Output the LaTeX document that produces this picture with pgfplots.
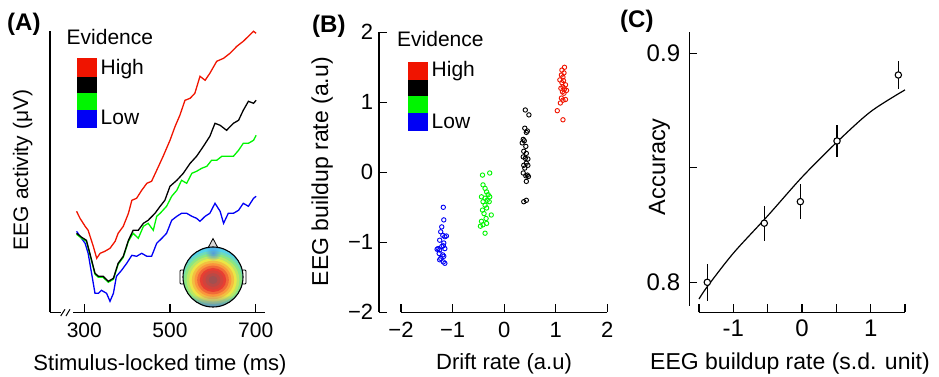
\documentclass[border=0pt]{standalone}
\usepackage{fontspec}
\setmainfont{Liberation Sans}
\usepackage{pgfplots}
\pgfplotsset{compat=1.18}
\usetikzlibrary{fadings}
\definecolor{cred}{RGB}{240,20,0}
\definecolor{cgreen}{RGB}{0,245,0}
\definecolor{cblue}{RGB}{0,0,245}
\definecolor{t0}{RGB}{160,80,80}
\definecolor{t1}{RGB}{232,62,50}
\definecolor{t2}{RGB}{250,150,60}
\definecolor{t3}{RGB}{235,230,70}
\definecolor{t4}{RGB}{140,230,130}
\definecolor{t5}{RGB}{85,210,235}
\definecolor{t6}{RGB}{75,165,240}
\definecolor{t7}{RGB}{70,100,225}
\tikzfading[name=spot, inner color=transparent!0, outer color=transparent!100]
\tikzfading[name=botfade, top color=transparent!100, bottom color=transparent!0]
\newcommand\fs[1]{\fontsize{#1}{#1}\selectfont}
\pgfplotsset{
  common/.style={scale only axis, anchor=south west, clip=false,
    axis lines*=left, tick align=inside, major tick length=8pt,
    tick style={black, line width=1.2pt},
    axis line style={line width=1.2pt}}
}
\begin{document}
\begin{tikzpicture}
\path[use as bounding box] (0pt,0pt) rectangle (939pt,377pt);
% ---------------- Panel A ----------------
\begin{axis}[common, at={(50pt,64.7pt)}, width=215pt, height=281pt,
  xmin=220, xmax=721.7, ymin=0, ymax=281,
  x axis line style={draw=none},
  ytick=\empty, xtick={300,500,700}, xticklabels={300,500,700},
  xticklabel style={font=\fs{21}, anchor=base, yshift=-25.7pt}]
\draw[line width=1.2pt] (axis cs:220,0) -- (axis cs:244.9,0);
\draw[line width=1.2pt] (axis cs:274.3,0) -- (axis cs:721.7,0);
\draw[line width=1pt] (axis cs:244.9,-3.7) -- (axis cs:255,3);
\draw[line width=1pt] (axis cs:257.3,-3.7) -- (axis cs:266.6,3);
\addplot[cblue, line width=1.3pt] coordinates {(282,81)(290,76)(302,69)(309,59)(317,39)(325,19)(333,19)(340,22)(352,19)(360,11)(368,19)(375,36)(387,42)(399,49)(411,57)(422,56)(434,59)(446,56)(457,56)(469,69)(481,74)(492,79)(504,92)(516,96)(527,99)(539,99)(551,96)(562,94)(570,91)(582,96)(593,99)(605,109)(617,101)(625,89)(636,99)(648,99)(660,102)(671,109)(683,106)(695,114)(701,116)};
\addplot[cgreen, line width=1.3pt] coordinates {(282,78)(294,74)(305,71)(313,58)(325,38)(333,35)(344,35)(356,30)(368,33)(379,48)(391,55)(403,71)(414,79)(426,74)(438,86)(449,89)(461,82)(469,96)(477,99)(492,106)(504,116)(516,122)(527,132)(539,129)(551,139)(562,141)(574,144)(586,146)(597,152)(609,152)(621,156)(632,156)(648,156)(660,162)(671,169)(683,169)(695,172)(701,177)};
\addplot[black, line width=1.3pt] coordinates {(282,79)(294,75)(305,72)(313,59)(325,39)(333,36)(344,36)(356,31)(368,34)(379,49)(391,56)(403,72)(414,82)(426,82)(438,89)(449,92)(465,99)(477,106)(488,112)(500,126)(516,132)(531,139)(547,149)(562,156)(578,166)(593,176)(605,189)(617,187)(632,182)(648,189)(660,192)(671,202)(683,211)(695,209)(701,212)};
\addplot[cred, line width=1.3pt] coordinates {(282,101)(290,94)(302,86)(309,82)(321,66)(329,54)(337,59)(348,61)(360,64)(372,71)(379,79)(391,86)(403,99)(411,112)(422,114)(434,122)(446,129)(457,131)(469,142)(484,156)(500,172)(512,186)(523,197)(535,212)(547,214)(558,219)(570,236)(582,232)(593,239)(609,251)(625,254)(640,259)(656,266)(671,271)(683,276)(695,281)(701,279)};
\end{axis}
% topomap inset
\draw[line width=0.8pt, fill=white, rounded corners=1pt] (180pt,93pt) rectangle (184pt,107pt);
\draw[line width=0.8pt, fill=white, rounded corners=1pt] (242pt,93pt) rectangle (246pt,107pt);
\draw[line width=0.8pt, fill=white!85!black] (208pt,129pt) -- (213pt,138.5pt) -- (218pt,129pt) -- cycle;
\begin{scope}
\clip (213pt,100pt) circle (30pt);
\foreach \s/\c in {1.00/t7, 0.93/t6, 0.86/t6!50!t5, 0.79/t5, 0.72/t5!50!t4, 0.66/t4, 0.60/t4!50!t3, 0.54/t3, 0.48/t3!50!t2, 0.42/t2, 0.36/t2!50!t1, 0.30/t1, 0.24/t1!70!t0, 0.17/t1!35!t0, 0.10/t0}{
  \fill[\c] (213pt,97pt) ellipse [x radius=\s*44pt, y radius=\s*40pt];
}
\fill[t6!60!t7, path fading=spot, opacity=0.8] (213pt,124pt) circle (8pt);
\fill[t7, path fading=botfade, opacity=0.7] (180pt,69pt) rectangle (246pt,82pt);
\end{scope}
\draw[line width=1.1pt] (213pt,100pt) circle (30pt);
% legend A
\node[anchor=base west, inner sep=0pt, font=\fs{21}] at (66.5pt,332pt) {Evidence};
\fill[cred] (77.3pt,318.7pt) rectangle (96.7pt,300.3pt);
\fill[black] (77.3pt,300.3pt) rectangle (96.7pt,283.7pt);
\fill[cgreen] (77.3pt,283.7pt) rectangle (96.7pt,267pt);
\fill[cblue] (77.3pt,267pt) rectangle (96.7pt,249.3pt);
\node[anchor=base west, inner sep=0pt, font=\fs{21}] at (100.5pt,302pt) {High};
\node[anchor=base west, inner sep=0pt, font=\fs{21}] at (100.5pt,252pt) {Low};
\node[anchor=base, inner sep=0pt, font=\fs{22}] at (160pt,6pt) {Stimulus-locked time (ms)};
\node[anchor=base, rotate=90, inner sep=0pt, font=\fs{21}] at (28pt,207pt) {EEG activity (μV)};
\node[anchor=base west, inner sep=0pt, font=\bfseries\fs{24}] at (7pt,346pt) {(A)};
% ---------------- Panel B ----------------
\begin{axis}[common, at={(379pt,64.7pt)}, width=228.3pt, height=280pt,
  xmin=-2.4265, xmax=2, ymin=-2, ymax=2,
  x axis line style={draw=none},
  xtick={-2,-1,0,1,2}, xticklabels={−2,−1,0,1,2},
  ytick={-2,-1,0,1,2}, yticklabels={−2,−1,0,1,2},
  xticklabel style={font=\fs{22}, anchor=base, yshift=-25pt},
  yticklabel style={font=\fs{22}, anchor=east, inner sep=0pt, xshift=-5.7pt}]
\draw[line width=1.2pt] (axis cs:-2,-2) -- (axis cs:2,-2);
\addplot[only marks, mark=o, mark size=2.2pt, cblue, mark options={line width=0.9pt}] coordinates {(-1.18,-0.50)(-1.17,-0.68)(-1.21,-0.78)(-1.23,-0.85)(-1.19,-0.90)(-1.15,-0.92)(-1.12,-0.91)(-1.25,-0.97)(-1.17,-1.01)(-1.21,-1.06)(-1.28,-1.09)(-1.25,-1.11)(-1.18,-1.05)(-1.15,-1.09)(-1.30,-1.10)(-1.26,-1.16)(-1.19,-1.18)(-1.23,-1.23)(-1.17,-1.20)(-1.25,-1.25)(-1.18,-1.28)(-1.15,-1.30)};
\addplot[only marks, mark=o, mark size=2.2pt, cgreen, mark options={line width=0.9pt}] coordinates {(-0.42,-0.04)(-0.28,-0.01)(-0.41,-0.18)(-0.37,-0.23)(-0.34,-0.28)(-0.31,-0.32)(-0.28,-0.35)(-0.44,-0.35)(-0.37,-0.37)(-0.33,-0.40)(-0.41,-0.42)(-0.29,-0.42)(-0.37,-0.47)(-0.34,-0.51)(-0.42,-0.54)(-0.39,-0.59)(-0.25,-0.61)(-0.35,-0.66)(-0.44,-0.70)(-0.34,-0.73)(-0.41,-0.75)(-0.46,-0.77)(-0.37,-0.87)};
\addplot[only marks, mark=o, mark size=2.2pt, black, mark options={line width=0.9pt}] coordinates {(0.41,0.89)(0.48,0.82)(0.40,0.63)(0.45,0.59)(0.43,0.57)(0.37,0.47)(0.39,0.45)(0.35,0.42)(0.42,0.37)(0.38,0.30)(0.43,0.27)(0.37,0.22)(0.41,0.20)(0.46,0.19)(0.43,0.13)(0.38,0.10)(0.46,0.10)(0.40,0.06)(0.37,-0.01)(0.45,-0.04)(0.42,-0.05)(0.47,-0.06)(0.43,-0.13)(0.38,-0.42)(0.43,-0.40)};
\addplot[only marks, mark=o, mark size=2.2pt, cred, mark options={line width=0.9pt}] coordinates {(1.17,1.50)(1.12,1.46)(1.16,1.42)(1.11,1.39)(1.14,1.36)(1.08,1.32)(1.15,1.31)(1.12,1.28)(1.19,1.25)(1.14,1.22)(1.10,1.20)(1.17,1.19)(1.21,1.17)(1.13,1.15)(1.16,1.13)(1.11,1.06)(1.19,1.04)(1.14,1.03)(1.09,0.99)(1.03,0.88)(1.14,0.75)};
\end{axis}
% legend B
\node[anchor=base west, inner sep=0pt, font=\fs{21}] at (397pt,330pt) {Evidence};
\fill[cred] (408.3pt,314.7pt) rectangle (427.7pt,297pt);
\fill[black] (408.3pt,297pt) rectangle (427.7pt,281pt);
\fill[cgreen] (408.3pt,281pt) rectangle (427.7pt,264.3pt);
\fill[cblue] (408.3pt,264.3pt) rectangle (427.7pt,246.3pt);
\node[anchor=base west, inner sep=0pt, font=\fs{21}] at (431.5pt,300pt) {High};
\node[anchor=base west, inner sep=0pt, font=\fs{21}] at (431.5pt,248pt) {Low};
\node[anchor=base, inner sep=0pt, font=\fs{22}] at (504pt,7.5pt) {Drift rate (a.u)};
\node[anchor=base, rotate=90, inner sep=0pt, font=\fs{23}] at (328pt,205.3pt) {EEG buildup rate (a.u)};
\node[anchor=base west, inner sep=0pt, font=\bfseries\fs{24}] at (312pt,344pt) {(B)};
% ---------------- Panel C ----------------
\begin{axis}[common, at={(689.3pt,64.7pt)}, width=215.7pt, height=280.6pt,
  xmin=-1.641, xmax=1.5, ymin=0.7869, ymax=0.9094,
  axis line style={draw=none},
  xtick={-1.5,-1,-0.5,0,0.5,1,1.5}, xticklabels={,-1,,0,,1,},
  ytick={0.8,0.85,0.9}, yticklabels={0.8,,0.9},
  xticklabel style={font=\fs{24}, anchor=base, yshift=-24.4pt},
  yticklabel style={font=\fs{24}, anchor=east, inner sep=0pt, xshift=-9pt}]
\draw[line width=1.2pt] (axis cs:-1.5,0.7869) -- (axis cs:1.5,0.7869);
\draw[line width=1.2pt] (axis cs:-1.641,0.7898) -- (axis cs:-1.641,0.9094);
\addplot[black, line width=1.2pt, smooth] coordinates {(-1.5,0.7927)(-1.379,0.7981)(-1.0,0.8127)(-0.5,0.8290)(0.0,0.8459)(0.515,0.8614)(1.0,0.8745)(1.5,0.8840)};
\addplot[black, line width=1.2pt, only marks, mark=none, error bars/.cd, y dir=both, y explicit, error mark=none, error bar style={line width=1.2pt}] coordinates {(-1.379,0.8) +- (0,0.008) (-0.549,0.8258) +- (0,0.0076) (-0.024,0.8352) +- (0,0.0075) (0.510,0.8617) +- (0,0.0069) (1.403,0.8905) +- (0,0.0062)};
\addplot[only marks, mark=*, mark size=3.2pt, mark options={line width=1.1pt, draw=black, fill=white}] coordinates {(-1.379,0.8)(-0.549,0.8258)(-0.024,0.8352)(0.510,0.8617)(1.403,0.8905)};
\end{axis}
\node[anchor=base, inner sep=0pt, font=\fs{23}] at (790pt,7pt) {EEG buildup rate (s.d. unit)};
\node[anchor=base, rotate=90, inner sep=0pt, font=\fs{23.5}] at (665pt,210.3pt) {Accuracy};
\node[anchor=base west, inner sep=0pt, font=\bfseries\fs{24}] at (620pt,349pt) {(C)};
\end{tikzpicture}
\end{document}
